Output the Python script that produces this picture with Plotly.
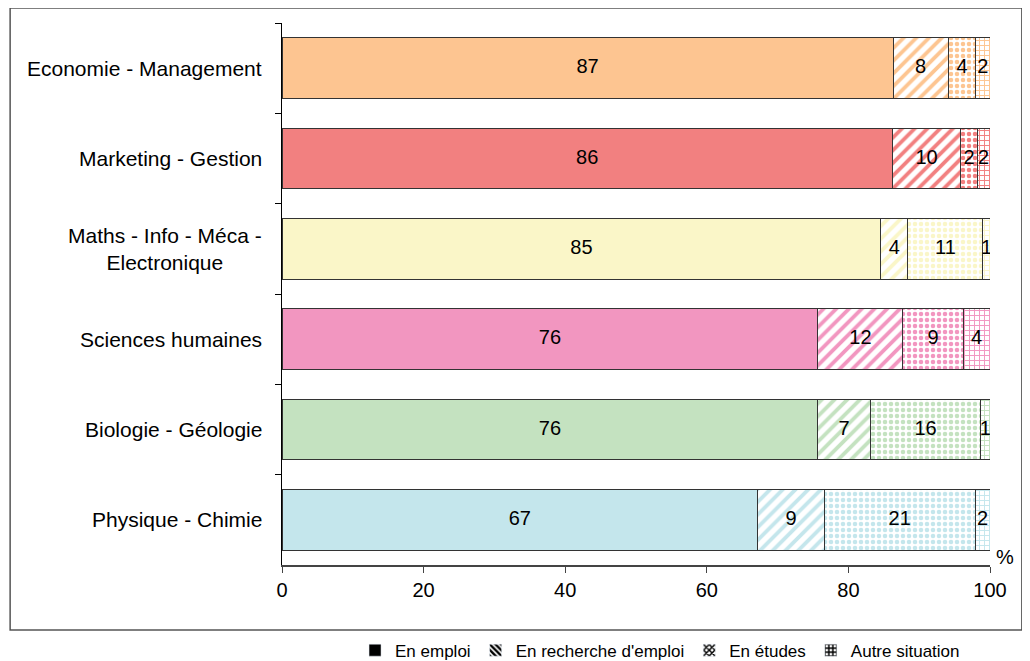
import plotly.graph_objects as go

categories = ["Economie - Management", "Marketing - Gestion", "Maths - Info - Méca -<br>Electronique",
              "Sciences humaines", "Biologie - Géologie", "Physique - Chimie"]
series_names = ["En emploi", "En recherche d'emploi", "En études", "Autre situation"]
# widths (%), and the printed (rounded) labels
emploi = [86.3, 86.2, 84.6, 75.7, 75.7, 67.2]
recherche = [7.8, 9.7, 3.8, 12.0, 7.4, 9.4]
etudes = [3.9, 2.3, 10.6, 8.5, 15.6, 21.3]
autre = [2.0, 1.8, 1.0, 3.8, 1.3, 2.1]
labels = [
    [87, 86, 85, 76, 76, 67],
    [8, 10, 4, 12, 7, 9],
    [4, 2, 11, 9, 16, 21],
    [2, 2, 1, 4, 1, 2],
]
colors = ["#FDC591", "#F28080", "#FAF6C8", "#F296C0", "#C4E2C0", "#C4E6EC"]
x_ticks = [0, 20, 40, 60, 80, 100]

series = [emploi, recherche, etudes, autre]
shapes = ["", "/", ".", "+"]
pat_size = [8, 9, 6, 5]
pat_sol = [0.3, 0.42, 0.45, 0.35]

FONT = "Liberation Sans, Arial, sans-serif"
fig = go.Figure()

for i, vals in enumerate(series):
    if i == 0:
        marker = dict(color=colors, line=dict(color="#333333", width=1))
    else:
        marker = dict(color="white", line=dict(color="#333333", width=1),
                      pattern=dict(shape=shapes[i], fgcolor=colors, bgcolor="white", fgopacity=1,
                                   size=pat_size[i], solidity=pat_sol[i], fillmode="replace"))
    fig.add_trace(go.Bar(x=vals, y=categories, orientation="h", marker=marker,
                         showlegend=False, hoverinfo="skip"))

# value labels at segment centers
for i, vals in enumerate(series):
    mids = []
    for j in range(len(categories)):
        start = sum(series[k][j] for k in range(i))
        mids.append(start + vals[j] / 2)
    fig.add_trace(go.Scatter(x=mids, y=categories, mode="text",
                             text=[str(v) for v in labels[i]],
                             textfont=dict(size=20, color="black", family=FONT),
                             showlegend=False, hoverinfo="skip", cliponaxis=True))

# legend-only traces
for i, name in enumerate(series_names):
    if i == 0:
        marker = dict(color="black")
    else:
        marker = dict(color="white", pattern=dict(shape=["", "\\", "x", "+"][i], fgcolor="black",
                                                  bgcolor="white", fgopacity=1, size=5, solidity=0.6))
    fig.add_trace(go.Bar(x=[None], y=[None], orientation="h", marker=marker, name=name,
                         showlegend=True))

annotations = []
for c in categories:
    annotations.append(dict(x=0, xref="paper", y=c, yref="y", text=c, showarrow=False,
                            xanchor="right", xshift=-18, align="center",
                            font=dict(size=21, color="black", family=FONT)))
annotations.append(dict(x=1.021, xref="paper", y=0.015, yref="paper", text="%", showarrow=False,
                        xanchor="center", yanchor="middle",
                        font=dict(size=20, color="black", family=FONT)))

fig.update_layout(
    width=1022, height=653,
    barmode="stack", bargap=0.33,
    margin=dict(l=274, r=40, t=15, b=96, autoexpand=False),
    paper_bgcolor="white", plot_bgcolor="white",
    font=dict(family=FONT, size=20, color="black"),
    showlegend=True,
    legend=dict(orientation="h", xref="container", yref="paper", x=0.638, y=-0.158,
                xanchor="center", yanchor="middle", font=dict(size=17, family=FONT),
                traceorder="normal", itemwidth=30, tracegroupgap=0, bgcolor="rgba(0,0,0,0)"),
    annotations=annotations,
    shapes=[dict(type="rect", xref="paper", yref="paper", x0=-0.384, x1=1.045, y0=-0.12, y1=1.0277,
                 line=dict(color="#555555", width=1.5), fillcolor="rgba(0,0,0,0)", layer="below")],
)
fig.update_xaxes(range=[0, 100], tickvals=x_ticks, ticks="outside", ticklen=6, tickcolor="#444444",
                 showline=True, linecolor="#444444", linewidth=1.5, showgrid=False, zeroline=False,
                 tickfont=dict(size=20, family=FONT))
fig.update_yaxes(categoryorder="array", categoryarray=categories, autorange="reversed",
                 showticklabels=False, ticks="outside", tickson="boundaries", ticklen=6,
                 tickcolor="black", showline=True, linecolor="black", linewidth=1,
                 showgrid=False, zeroline=False)

fig.write_html("out.html")
